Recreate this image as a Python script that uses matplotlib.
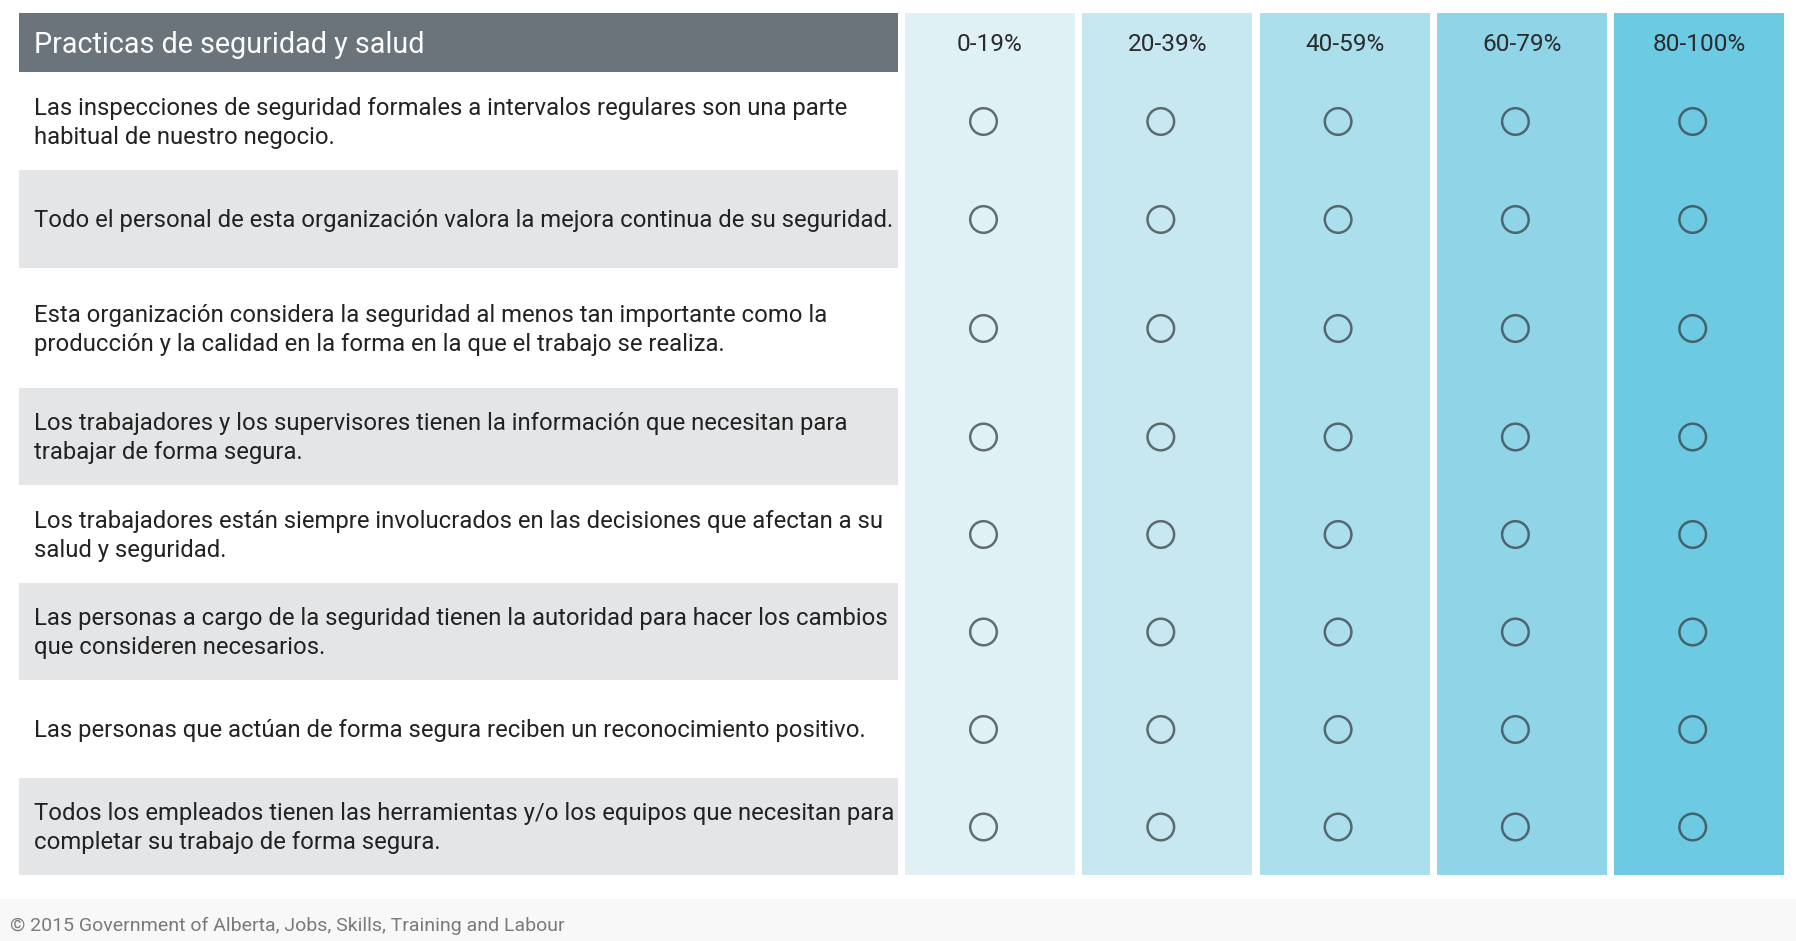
import matplotlib
matplotlib.use("Agg")
import matplotlib.pyplot as plt
from matplotlib.patches import Rectangle, Circle

#Dati della tabella
title = "Practicas de seguridad y salud"
scale_labels = ["0-19%", "20-39%", "40-59%", "60-79%", "80-100%"]
statements = [
    "Las inspecciones de seguridad formales a intervalos regulares son una parte\nhabitual de nuestro negocio.",
    "Todo el personal de esta organización valora la mejora continua de su seguridad.",
    "Esta organización considera la seguridad al menos tan importante como la\nproducción y la calidad en la forma en la que el trabajo se realiza.",
    "Los trabajadores y los supervisores tienen la información que necesitan para\ntrabajar de forma segura.",
    "Los trabajadores están siempre involucrados en las decisiones que afectan a su\nsalud y seguridad.",
    "Las personas a cargo de la seguridad tienen la autoridad para hacer los cambios\nque consideren necesarios.",
    "Las personas que actúan de forma segura reciben un reconocimiento positivo.",
    "Todos los empleados tienen las herramientas y/o los equipos que necesitan para\ncompletar su trabajo de forma segura.",
]
footer = "© 2015 Government of Alberta, Jobs, Skills, Training and Labour"

#Layout (pixel)
W, H = 1796, 941
row_heights = [98, 98, 120, 97, 98, 97, 98, 97]
header_top, header_bot = 13, 72
left_x0, left_x1 = 19, 898
col_x0, col_w, col_gap = 905, 170, 7.3
col_colors = ["#e0f1f6", "#c7e8f1", "#acdfec", "#8fd5e7", "#6ccae2"]
line_pitch = 28.7

fig = plt.figure(figsize=(W / 100, H / 100), dpi=100)
ax = fig.add_axes([0, 0, 1, 1])
ax.set_xlim(0, W)
ax.set_ylim(H, 0)
ax.axis("off")

#Colonne colorate
table_bot = header_bot + sum(row_heights)
col_centers = []
for i, lab in enumerate(scale_labels):
    x = col_x0 + i * (col_w + col_gap)
    ax.add_patch(Rectangle((x, header_top), col_w, table_bot - header_top,
                           facecolor=col_colors[i], edgecolor="none"))
    col_centers.append(x + col_w / 2)
    ax.text(x + col_w / 2, header_top + (header_bot - header_top) / 2 + 2, lab,
            family="Roboto", fontsize=17.6, color="#2b2b2b", ha="center", va="center")

#Intestazione
ax.add_patch(Rectangle((left_x0, header_top), left_x1 - left_x0, header_bot - header_top,
                       facecolor="#6a747a", edgecolor="none"))
ax.text(left_x0 + 15, (header_top + header_bot) / 2 + 2, title, family="Roboto",
        fontsize=20.7, color="white", ha="left", va="center")

#Righe
y = header_bot
for r, (txt, h) in enumerate(zip(statements, row_heights)):
    if r % 2 == 1:
        ax.add_patch(Rectangle((left_x0, y), left_x1 - left_x0, h,
                               facecolor="#e4e5e7", edgecolor="none"))
    center = y + h / 2
    lines = txt.split("\n")
    base_last = center + 8.3 + (len(lines) - 1) * line_pitch / 2
    for k, line in enumerate(lines):
        yb = base_last - (len(lines) - 1 - k) * line_pitch
        ax.text(left_x0 + 15, yb, line, family="Roboto", fontsize=17.2,
                color="#222222", ha="left", va="baseline")
    for cx in col_centers:
        ax.add_patch(Circle((cx - 6.5, center + 0.5), 13.3, facecolor="none",
                            edgecolor=(0.22, 0.25, 0.27, 0.75), linewidth=1.8))
    y += h

#Piede
ax.add_patch(Rectangle((0, 899), W, H - 899, facecolor="#f8f8f8", edgecolor="none"))
ax.text(10, 926, footer, family="Roboto", fontsize=14, color="#7a7a7a",
        ha="left", va="center")

fig.savefig("out.png", dpi=100)
